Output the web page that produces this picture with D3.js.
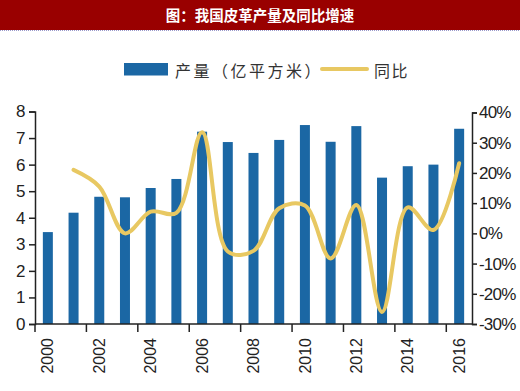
<!DOCTYPE html>
<html>
<head>
<meta charset="utf-8">
<script src="https://cdn.jsdelivr.net/npm/d3@7"></script>
<style>
  body { margin: 0; background: #fff; }
  svg { display: block; }
</style>
</head>
<body>
<svg></svg>
<script>
// taille de la page
const width = 520;
const height = 391;

// données
const years = d3.range(2000, 2017).map(String);
const output = [3.46, 4.19, 4.79, 4.77, 5.12, 5.46, 7.24, 6.85, 6.44, 6.93, 7.49, 6.86, 7.45, 5.51, 5.94, 6.00, 7.35];
const growthYears = years.slice(1);
const growth = [21, 15.5, 0, 7.2, 6.8, 33.5, -6, -5.8, 8.3, 9.2, -8.3, 9.4, -26, 8.6, 1.1, 23.2];
const leftTicks = [0, 1, 2, 3, 4, 5, 6, 7, 8];
const rightTicks = [-30, -20, -10, 0, 10, 20, 30, 40];
const xTickYears = ["2000", "2002", "2004", "2006", "2008", "2010", "2012", "2014", "2016"];

const barColor = "#1b67a4";
const lineColor = "#e8c862";

const svg = d3.select("svg")
    .attr("width", width)
    .attr("height", height)
    .style("font-family", "'Liberation Sans', Arial, sans-serif");

// bandeau du titre
svg.append("rect")
    .attr("x", 0).attr("y", 0)
    .attr("width", width).attr("height", 30)
    .attr("fill", "#990000");
svg.append("line")
    .attr("x1", 0).attr("x2", width)
    .attr("y1", 30.5).attr("y2", 30.5)
    .attr("stroke", "#9a9acb")
    .attr("stroke-width", 1)
    .attr("stroke-dasharray", "1,1");
svg.append("text")
    .attr("x", 260).attr("y", 14)
    .attr("text-anchor", "middle")
    .attr("dominant-baseline", "central")
    .attr("fill", "#fff")
    .style("font-family", "'Noto Sans CJK SC', sans-serif")
    .style("font-weight", "bold")
    .style("font-size", "14.5px")
    .text("图：我国皮革产量及同比增速");

// échelles
const xBand = d3.scaleBand().domain(years).range([35, 472]);
const yLeft = d3.scaleLinear().domain([0, 8]).range([324, 111.5]);
const yRight = d3.scaleLinear().domain([-30, 40]).range([324, 112.5]);

// barres
svg.selectAll(".bar")
    .data(years)
    .enter()
    .append("rect")
    .attr("class", "bar")
    .attr("x", d => xBand(d) + xBand.bandwidth() / 2 - 5)
    .attr("width", 10)
    .attr("y", (d, i) => yLeft(output[i]))
    .attr("height", (d, i) => yLeft(0) - yLeft(output[i]))
    .attr("fill", barColor);

// courbe du taux de croissance
const line = d3.line()
    .x((d, i) => xBand(growthYears[i]) + xBand.bandwidth() / 2)
    .y(d => yRight(d))
    .curve(d3.curveCatmullRom.alpha(0.5));

svg.append("path")
    .datum(growth)
    .attr("d", line)
    .attr("fill", "none")
    .attr("stroke", lineColor)
    .attr("stroke-width", 4)
    .attr("stroke-linecap", "round");

// axe gauche
const axisColor = "#222";
const gLeft = svg.append("g")
    .attr("transform", "translate(35,0)")
    .call(d3.axisLeft(yLeft).tickValues(leftTicks).tickSize(6).tickPadding(4));
// axe droit
const gRight = svg.append("g")
    .attr("transform", "translate(472,0)")
    .call(d3.axisRight(yRight).tickValues(rightTicks).tickSize(5).tickPadding(2).tickFormat(d => d + "%"));
// axe du bas
const gBottom = svg.append("g")
    .attr("transform", "translate(0,324)")
    .call(d3.axisBottom(xBand).tickSize(0).tickPadding(0).tickFormat(d => xTickYears.includes(d) ? d : ""));

[gLeft, gRight, gBottom].forEach(g => {
    g.select(".domain").attr("stroke", axisColor).attr("stroke-width", 1.5);
    g.selectAll(".tick line").attr("stroke", axisColor).attr("stroke-width", 1.5);
    g.selectAll("text")
        .attr("fill", "#222")
        .style("font-family", "'Liberation Sans', Arial, sans-serif")
        .style("font-size", "17px");
});
gBottom.select(".domain").attr("d", "M35,0H472");
gLeft.selectAll("text").attr("letter-spacing", "-0.5");
gRight.selectAll("text").attr("letter-spacing", "-0.8");

// petites graduations du bas aux limites de bandes, une sur deux
gBottom.selectAll(".sep")
    .data(xTickYears)
    .enter()
    .append("line")
    .attr("x1", d => xBand(d)).attr("x2", d => xBand(d))
    .attr("y1", 0).attr("y2", 8)
    .attr("stroke", axisColor)
    .attr("stroke-width", 1.5);

gBottom.selectAll(".tick text")
    .style("font-size", "16px")
    .attr("text-anchor", "end")
    .attr("dy", "0.35em")
    .attr("transform", "translate(0,14) rotate(-90)");

// légende
const legend = svg.append("g").style("font-family", "'Noto Sans CJK SC', sans-serif");
legend.append("rect")
    .attr("x", 124).attr("y", 63)
    .attr("width", 44).attr("height", 12.5)
    .attr("fill", barColor);
legend.append("text")
    .attr("x", 175).attr("y", 70)
    .attr("dominant-baseline", "central")
    .attr("fill", "#333")
    .style("font-size", "16px")
    .attr("letter-spacing", "2.5")
    .text("产量（亿平方米）");
legend.append("line")
    .attr("x1", 322).attr("x2", 367)
    .attr("y1", 69).attr("y2", 69)
    .attr("stroke", lineColor)
    .attr("stroke-width", 4)
    .attr("stroke-linecap", "round");
legend.append("text")
    .attr("x", 374).attr("y", 70)
    .attr("dominant-baseline", "central")
    .attr("fill", "#333")
    .style("font-size", "16px")
    .attr("letter-spacing", "1.5")
    .text("同比");
</script>
</body>
</html>
